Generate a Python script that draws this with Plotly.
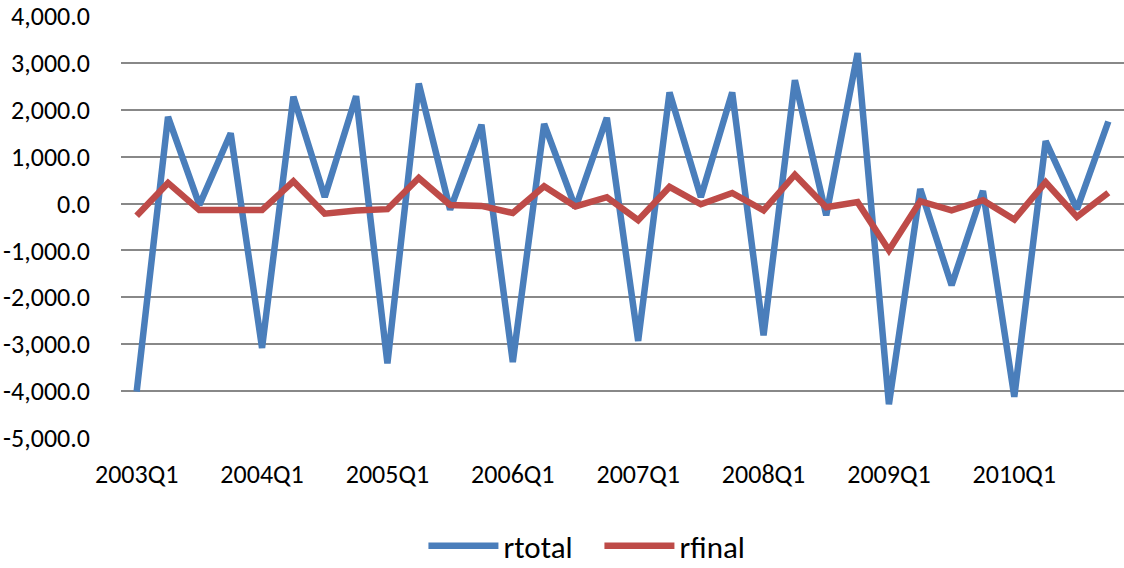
import plotly.graph_objects as go

# Quarterly periods 2003Q1 .. 2010Q4
quarters = [f"{y}Q{q}" for y in range(2003, 2011) for q in range(1, 5)]

rtotal = [-4010, 1850, -30, 1500, -3080, 2280, 140, 2290,
          -3410, 2560, -130, 1680, -3380, 1700, -90, 1830,
          -2930, 2370, 140, 2370, -2810, 2630, -250, 3210,
          -4280, 310, -1740, 270, -4120, 1330, -120, 1750]

rfinal = [-260, 440, -140, -150, -140, 475, -215, -150,
          -120, 545, -30, -50, -200, 370, -60, 135,
          -355, 355, -15, 225, -145, 615, -80, 30,
          -995, 50, -145, 70, -340, 455, -285, 230]

tick_labels = [q for q in quarters if q.endswith("Q1")]
y_ticks = list(range(-5000, 4001, 1000))

font_family = "Carlito, Calibri, Lato, sans-serif"

fig = go.Figure()
fig.add_trace(go.Scatter(x=quarters, y=rtotal, name="rtotal", mode="lines",
                         line=dict(color="#4A7EBB", width=6.5)))
fig.add_trace(go.Scatter(x=quarters, y=rfinal, name="rfinal", mode="lines",
                         line=dict(color="#BE4B48", width=6.5)))

fig.update_layout(
    width=1124, height=568,
    margin=dict(l=121, r=0, t=16, b=130, autoexpand=False),
    paper_bgcolor="white", plot_bgcolor="white",
    font=dict(family=font_family, size=26, color="#000000"),
    showlegend=True,
    legend=dict(orientation="h", x=0.477, xanchor="center", y=-0.256, yanchor="middle",
                font=dict(size=31), itemwidth=70, entrywidth=91,
                traceorder="normal", bgcolor="rgba(0,0,0,0)"),
    xaxis=dict(type="category", range=[-0.5, 31.5], tickmode="array",
               tickvals=tick_labels, ticktext=tick_labels, showgrid=False,
               ticks="", showline=False, zeroline=False, ticklabelstandoff=18),
    yaxis=dict(range=[-5000, 4000], tickmode="array", tickvals=y_ticks,
               ticktext=[f"{v:,.1f}" for v in y_ticks], showgrid=True,
               gridcolor="#888888", gridwidth=2, zeroline=False, showline=False,
               ticks="", ticklabelstandoff=30),
)

fig.write_html("out.html")
